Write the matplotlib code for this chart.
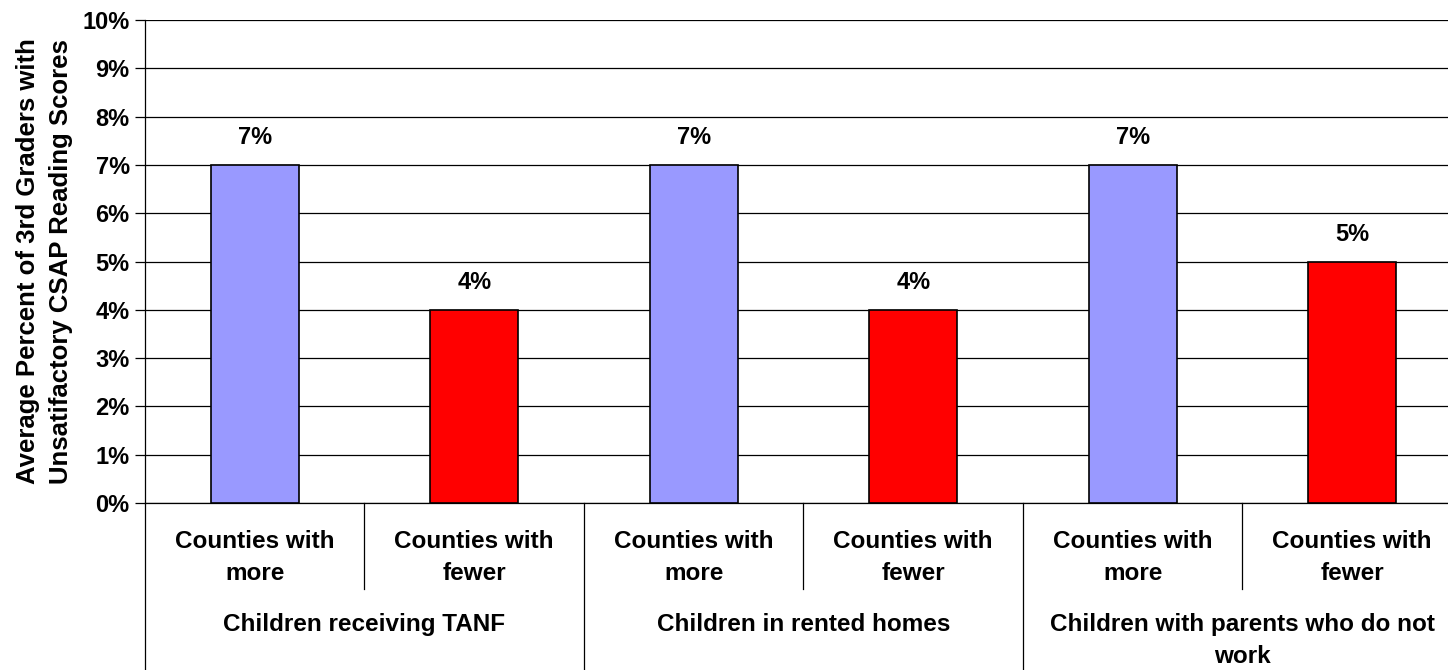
import matplotlib
matplotlib.use("Agg")
from matplotlib import pyplot as plt

groups = ["Children receiving TANF", "Children in rented homes",
          "Children with parents who do not\nwork"]
subs = ["Counties with\nmore", "Counties with\nfewer"]
values = [7, 4, 7, 4, 7, 5]
colors = ["#9999FF", "#FF0000"] * 3

plt.rcParams["font.family"] = ["Liberation Sans", "DejaVu Sans"]
plt.rcParams["font.weight"] = "bold"

fig = plt.figure(figsize=(14.48, 6.70), dpi=100)
W, H = 1448, 670
ax = fig.add_axes([145 / W, 167 / H, (1462 - 145) / W, (503 - 20) / H])

x = range(len(values))
ax.bar(x, values, width=0.4, color=colors, edgecolor="black", linewidth=1.2, zorder=3)

for i, v in zip(x, values):
    ax.annotate(f"{v}%", (i, v), xytext=(0, 27), textcoords="offset pixels",
                ha="center", va="center", fontsize=17, fontweight="bold")

ax.set_xlim(-0.5, 5.5)
ax.set_ylim(0, 10)
ax.set_yticks(range(11))
ax.set_yticklabels([f"{t}%" for t in range(11)], fontsize=17, fontweight="bold")
ax.yaxis.grid(True, color="black", linewidth=0.9)
ax.set_axisbelow(True)
ax.tick_params(axis="y", length=7, width=0.9, pad=4)
ax.set_xticks([])
for s in ["top", "right"]:
    ax.spines[s].set_visible(False)
ax.spines["left"].set_linewidth(0.9)
ax.spines["bottom"].set_linewidth(0.9)

ax.set_ylabel("Average Percent of 3rd Graders with\nUnsatifactory CSAP Reading Scores",
              fontsize=18.5, fontweight="bold", labelpad=7, linespacing=1.45)

tr = ax.get_xaxis_transform()
axh = 503 - 20
sub_bottom = -(589 - 503) / axh
grp_bottom = -(670 - 503) / axh - 0.05
for b in [0.5, 2.5, 4.5]:
    ax.plot([b, b], [0, sub_bottom], transform=tr, color="black", lw=0.9, clip_on=False)
for b in [-0.5, 1.5, 3.5, 5.5]:
    ax.plot([b, b], [0, grp_bottom], transform=tr, color="black", lw=0.9, clip_on=False)

for i in x:
    ax.text(i, -(558 - 503) / axh, subs[i % 2], transform=tr, ha="center", va="center",
            fontsize=17.5, fontweight="bold", linespacing=1.5)
for g, name in enumerate(groups):
    ax.text(2 * g + 0.5, -(613 - 503) / axh, name, transform=tr, ha="center", va="top",
            fontsize=17.5, fontweight="bold", linespacing=1.5)

fig.savefig("out.png", dpi=100)
